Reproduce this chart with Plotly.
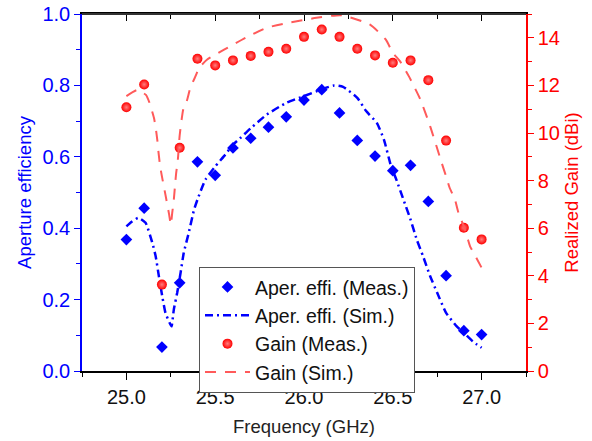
import plotly.graph_objects as go

# ---- data ----
freq_meas = [25.0, 25.1, 25.2, 25.3, 25.4, 25.5, 25.6, 25.7, 25.8, 25.9, 26.0,
             26.1, 26.2, 26.3, 26.4, 26.5, 26.6, 26.7, 26.8, 26.9, 27.0]
eff_meas = [0.368, 0.456, 0.067, 0.247, 0.586, 0.548, 0.625, 0.652, 0.683, 0.712, 0.759,
            0.788, 0.723, 0.646, 0.602, 0.561, 0.576, 0.475, 0.267, 0.113, 0.102]
gain_meas = [11.08, 12.04, 3.63, 9.38, 13.12, 12.84, 13.05, 13.24, 13.41, 13.54, 14.04,
             14.35, 14.04, 13.54, 13.26, 12.95, 13.05, 12.22, 9.68, 6.02, 5.53]

eff_sim_f = [25.00, 25.03, 25.067, 25.108, 25.146, 25.165, 25.183, 25.202, 25.22, 25.243,
             25.254, 25.267, 25.286, 25.305, 25.323, 25.351, 25.38, 25.40, 25.445, 25.50,
             25.557, 25.60, 25.64, 25.70, 25.79, 25.90, 26.00, 26.10, 26.17, 26.22, 26.30,
             26.35, 26.41, 26.45, 26.49, 26.52, 26.56, 26.60, 26.635, 26.67, 26.71, 26.75,
             26.80, 26.86, 26.90, 26.95, 27.00]
eff_sim = [0.405, 0.418, 0.429, 0.415, 0.359, 0.321, 0.265, 0.209, 0.163, 0.135,
           0.125, 0.172, 0.219, 0.275, 0.331, 0.387, 0.45, 0.48, 0.536, 0.573,
           0.606, 0.634, 0.652, 0.68, 0.718, 0.751, 0.770, 0.789, 0.80, 0.796, 0.765,
           0.728, 0.695, 0.648, 0.574, 0.536, 0.48, 0.424, 0.368, 0.322, 0.266, 0.219,
           0.163, 0.125, 0.107, 0.083, 0.065]

gain_sim_f = [25.00, 25.06, 25.11, 25.13, 25.155, 25.165, 25.175, 25.18, 25.19, 25.20,
              25.22, 25.24, 25.25, 25.258, 25.267, 25.275, 25.28, 25.29, 25.30, 25.32,
              25.34, 25.36, 25.384, 25.41, 25.455, 25.55, 25.67, 25.79, 25.91, 26.07,
              26.21, 26.37, 26.46, 26.50, 26.54, 26.59, 26.655, 26.71, 26.775, 26.80,
              26.82, 26.85, 26.87, 26.90, 26.92, 26.935, 26.97, 27.00]
gain_sim = [11.55, 11.8, 11.6, 11.27, 10.64, 10.22, 9.65, 9.24, 8.6, 8.18,
            7.4, 6.6, 6.15, 6.64, 7.2, 7.9, 8.3, 8.9, 9.9, 10.99,
            11.34, 11.9, 12.3, 12.74, 13.09, 13.5, 14.0, 14.42, 14.63, 14.84,
            14.95, 14.56, 13.93, 13.37, 13.02, 12.39, 11.41, 10.29, 8.75, 8.18,
            7.7, 7.2, 6.64, 6.08, 5.6, 5.24, 4.76, 4.34]

BLUE = "#0000FF"
RED = "#FF0000"
FONT = "Liberation Sans, Arial, sans-serif"

fig = go.Figure()
fig.add_trace(go.Scatter(x=freq_meas, y=eff_meas, mode="markers", name="Aper. effi. (Meas.)",
                         marker=dict(symbol="diamond", size=9, color=BLUE, line=dict(width=0))))
fig.add_trace(go.Scatter(x=eff_sim_f, y=eff_sim, mode="lines", name="Aper. effi. (Sim.)",
                         line=dict(color=BLUE, width=2.5, dash="8px,4px,2px,4px",
                                   shape="spline", smoothing=0.5)))
fig.add_trace(go.Scatter(x=freq_meas, y=gain_meas, mode="markers", name="Gain (Meas.)",
                         yaxis="y2",
                         marker=dict(symbol="circle", size=10, color=RED, line=dict(width=0),
                                     gradient=dict(type="radial", color="rgb(255,125,125)"))))
fig.add_trace(go.Scatter(x=gain_sim_f, y=gain_sim, mode="lines", name="Gain (Sim.)",
                         yaxis="y2",
                         line=dict(color="rgb(255,90,90)", width=2, dash="11px,9px",
                                   shape="spline", smoothing=0.5)))
# invisible helper trace so the top frame axis (x2) gets a subplot
fig.add_trace(go.Scatter(x=freq_meas, y=eff_meas, xaxis="x2", mode="markers",
                         marker=dict(opacity=0), showlegend=False, hoverinfo="skip"))

fig.update_layout(
    width=592, height=441,
    margin=dict(l=82, r=66, t=14, b=70),
    paper_bgcolor="white", plot_bgcolor="white",
    font=dict(family=FONT, size=20, color="#222222"),
    showlegend=True,
    legend=dict(x=0.2635, y=0.292, xanchor="left", yanchor="top",
                bgcolor="white", bordercolor="#555555", borderwidth=1,
                font=dict(size=19.5, color="#111111"), tracegroupgap=0, itemwidth=45),
    xaxis=dict(range=[24.75, 27.25], dtick=0.5, tick0=25.0, tickformat=".1f",
               ticks="outside", ticklen=7, tickwidth=1.2, tickcolor="black",
               minor=dict(ticks="outside", ticklen=4, dtick=0.25, tick0=25.0, tickcolor="black"),
               showline=True, mirror=True, linecolor="black", linewidth=1.5,
               showgrid=False, zeroline=False,
               ticklabelstandoff=0, automargin=False, ticklabeloverflow="allow",
               title=dict(text="Frequency (GHz)", font=dict(size=18.5, color="#222222"), standoff=13),
               tickfont=dict(size=20, color="#111111")),
    xaxis2=dict(range=[24.75, 27.25], overlaying="x", side="top", anchor="free", position=1.0,
                dtick=0.5, tick0=25.0, ticks="inside", ticklen=6, tickcolor="black",
                minor=dict(ticks="inside", ticklen=4, dtick=0.25, tick0=25.0, tickcolor="black"),
                showticklabels=False, showline=True, linecolor="black", linewidth=1.5,
                showgrid=False, zeroline=False, automargin=False),
    yaxis=dict(range=[0, 1.0], dtick=0.2, tickformat=".1f",
               ticks="outside", ticklen=6, tickcolor=BLUE,
               minor=dict(ticks="outside", ticklen=4, dtick=0.1, tickcolor=BLUE),
               showline=True, linecolor=BLUE, linewidth=1.5, showgrid=False, zeroline=False,
               tickfont=dict(size=20, color=BLUE), automargin=False, ticklabeloverflow="allow",
               title=dict(text="Aperture efficiency", font=dict(size=18.5, color=BLUE), standoff=6)),
    yaxis2=dict(range=[0, 15], dtick=2, overlaying="y", side="right", anchor="x",
                ticks="outside", ticklen=6, tickcolor=RED,
                minor=dict(ticks="outside", ticklen=4, dtick=1, tickcolor=RED),
                showline=True, linecolor=RED, linewidth=1.5, showgrid=False, zeroline=False,
                tickfont=dict(size=20, color=RED), automargin=False, ticklabeloverflow="allow",
                title=dict(text="Realized Gain (dBi)", font=dict(size=18.5, color=RED), standoff=6)),
    shapes=[dict(type="line", xref="x domain", yref="y domain", x0=0, x1=1, y0=1, y1=1,
                 line=dict(color="#333333", width=2), layer="above")],
)

# remove the default 8px page margin so the figure sits at the window's top-left corner
fig.write_html("out.html", config={"displayModeBar": False},
               post_script="document.body.style.margin='0';")
